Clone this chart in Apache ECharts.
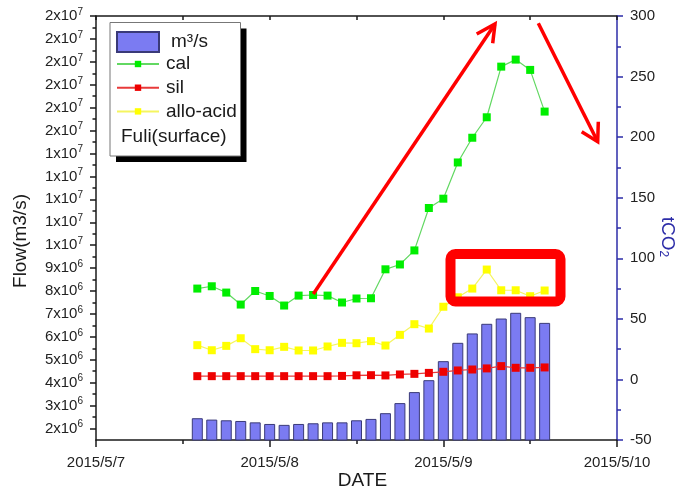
<!DOCTYPE html>
<html>
<head>
<meta charset="utf-8">
<title>Fuli (surface): flow and tCO2</title>
<script src="https://cdn.jsdelivr.net/npm/echarts@6/dist/echarts.min.js"></script>
<style>
  html, body { margin: 0; padding: 0; background: #fff; }
  #chart { width: 683px; height: 492px; }
</style>
</head>
<body>
<div id="chart"></div>
<script>
// Sampling times (every 2 hours)
const times = [
  '2015/5/7 14:00', '2015/5/7 16:00', '2015/5/7 18:00', '2015/5/7 20:00', '2015/5/7 22:00',
  '2015/5/8 00:00', '2015/5/8 02:00', '2015/5/8 04:00', '2015/5/8 06:00', '2015/5/8 08:00',
  '2015/5/8 10:00', '2015/5/8 12:00', '2015/5/8 14:00', '2015/5/8 16:00', '2015/5/8 18:00',
  '2015/5/8 20:00', '2015/5/8 22:00', '2015/5/9 00:00', '2015/5/9 02:00', '2015/5/9 04:00',
  '2015/5/9 06:00', '2015/5/9 08:00', '2015/5/9 10:00', '2015/5/9 12:00', '2015/5/9 14:00'
];

// Discharge, m3/s (left axis)
const flow = [
  2.45e6, 2.39e6, 2.36e6, 2.33e6, 2.27e6, 2.20e6, 2.16e6, 2.20e6, 2.23e6, 2.27e6,
  2.27e6, 2.36e6, 2.42e6, 2.67e6, 3.11e6, 3.59e6, 4.11e6, 4.94e6, 5.74e6, 6.15e6,
  6.57e6, 6.80e6, 7.05e6, 6.86e6, 6.61e6
];

// CO2 consumption, tCO2 (right axis)
const cal = [
  75.0, 76.9, 71.7, 61.8, 73.0, 68.9, 61.0, 69.2, 69.7, 69.2,
  63.5, 66.8, 67.0, 90.9, 94.9, 106.5, 141.5, 149.2, 179.1, 199.5,
  216.4, 258.2, 264.0, 255.5, 221.1
];
const sil = [
  2.7, 2.7, 2.7, 2.7, 2.7, 2.7, 2.7, 2.7, 2.7, 2.7,
  2.9, 3.4, 3.5, 3.3, 4.1, 4.6, 5.4, 6.3, 7.4, 8.2,
  9.1, 11.0, 9.6, 9.6, 9.9
];
const alloAcid = [
  28.3, 24.1, 27.7, 34.0, 25.0, 24.1, 26.9, 23.9, 23.9, 27.2,
  30.2, 29.9, 31.6, 28.0, 36.8, 45.6, 42.0, 60.0, 67.8, 75.0,
  90.7, 73.6, 73.6, 68.7, 73.4
];

// Axis tick labels
const dateTicks = ['2015/5/7', '2015/5/8', '2015/5/9', '2015/5/10'];
const flowTickValues = [
  2e6, 3e6, 4e6, 5e6, 6e6, 7e6, 8e6, 9e6, 10e6, 11e6,
  12e6, 13e6, 14e6, 15e6, 16e6, 17e6, 18e6, 19e6, 20e6
];
const flowTickLabels = [
  '2x10^6', '3x10^6', '4x10^6', '5x10^6', '6x10^6', '7x10^6', '8x10^6', '9x10^6',
  '1x10^7', '1x10^7', '1x10^7', '1x10^7', '1x10^7',
  '2x10^7', '2x10^7', '2x10^7', '2x10^7', '2x10^7', '2x10^7'
];

const FONT = '"Liberation Sans", Arial, sans-serif';
const INK = '#1a1a1a';
const NAVY = '#2c2ca8';

// hours elapsed since 2015/5/7 00:00
function hoursOf(s) {
  const [d, t] = s.split(' ');
  const day = Number(d.split('/')[2]);
  const hour = Number(t.split(':')[0]);
  return (day - 7) * 24 + hour;
}
const pairs = (vals) => vals.map((v, i) => [hoursOf(times[i]), v]);

// minor ticks halfway between the labelled flow ticks
const flowMinorTicks = flowTickValues.slice(0, -1).map((v, i) => (v + flowTickValues[i + 1]) / 2);

function flowLabel(v) {
  const i = flowTickValues.findIndex(t => Math.abs(t - v) < 1);
  if (i < 0) return '';
  const [m, e] = flowTickLabels[i].split('^');
  return '{m|' + m + '}{e|' + e + '}';
}

const chart = echarts.init(document.getElementById('chart'), null, { renderer: 'canvas' });

const axisLineBlack = { show: true, onZero: false, lineStyle: { color: INK, width: 1.5 } };

chart.setOption({
  animation: false,
  backgroundColor: '#fff',
  textStyle: { fontFamily: FONT },
  grid: { left: 96, right: 66, top: 16, bottom: 52, containLabel: false, outerBoundsMode: 'none' },
  xAxis: [
    {
      type: 'value', position: 'bottom', min: 0, max: 72, interval: 24,
      axisLine: axisLineBlack,
      axisTick: { show: true, length: 7, lineStyle: { color: INK, width: 1.5 } },
      minorTick: { show: true, splitNumber: 2, length: 4, lineStyle: { color: INK, width: 1.5 } },
      splitLine: { show: false },
      axisLabel: {
        formatter: v => dateTicks[Math.round(v / 24)] || '',
        fontSize: 15, color: '#222', margin: 15, fontFamily: FONT
      },
      name: 'DATE', nameLocation: 'middle', nameGap: 31, nameMoveOverlap: false,
      nameTextStyle: { fontSize: 19, color: INK, fontFamily: FONT, padding: [0, 0, 0, 12] }
    },
    {
      type: 'value', position: 'top', min: 0, max: 72, interval: 24,
      axisLine: axisLineBlack,
      axisTick: { show: true, inside: true, length: 4, lineStyle: { color: INK, width: 1.5 } },
      minorTick: { show: true, splitNumber: 2, length: 4, lineStyle: { color: INK, width: 1.5 } },
      splitLine: { show: false },
      axisLabel: { show: false }
    }
  ],
  yAxis: [
    {
      type: 'value', position: 'left', min: 1.5e6, max: 2e7,
      axisLine: axisLineBlack,
      axisTick: { show: true, length: 6, customValues: flowTickValues, lineStyle: { color: INK, width: 1.5 } },
      splitLine: { show: false },
      axisLabel: {
        customValues: flowTickValues,
        formatter: flowLabel,
        margin: 13,
        rich: {
          m: { fontSize: 15, color: '#222', fontFamily: FONT },
          e: { fontSize: 10, color: '#222', fontFamily: FONT, padding: [0, 0, 8, 0] }
        }
      },
      name: 'Flow(m3/s)', nameLocation: 'middle', nameGap: 66, nameMoveOverlap: false,
      nameTextStyle: { fontSize: 19, color: INK, fontFamily: FONT, padding: [0, 26, 0, 0] }
    },
    {
      type: 'value', position: 'right', min: -50, max: 300, interval: 50,
      axisLine: { show: true, onZero: false, lineStyle: { color: NAVY, width: 1.5 } },
      axisTick: { show: true, length: 6, lineStyle: { color: NAVY, width: 1.5 } },
      minorTick: { show: true, splitNumber: 2, length: 4, lineStyle: { color: NAVY, width: 1.5 } },
      splitLine: { show: false },
      axisLabel: { fontSize: 15, color: '#222', margin: 13, fontFamily: FONT },
      name: '{a|tCO}{s|2}', nameLocation: 'middle', nameGap: 40, nameRotate: -90, nameMoveOverlap: false,
      nameTextStyle: {
        padding: [0, 0, 0, 18],
        rich: {
          a: { fontSize: 19, color: NAVY, fontFamily: FONT },
          s: { fontSize: 12, color: NAVY, fontFamily: FONT, padding: [9, 0, 0, 0] }
        }
      }
    },
    {
      // short unlabelled ticks between the flow labels
      type: 'value', position: 'left', min: 1.5e6, max: 2e7,
      axisLine: { show: false },
      axisTick: { show: true, length: 3.5, customValues: flowMinorTicks, lineStyle: { color: INK, width: 1.5 } },
      axisLabel: { show: false },
      splitLine: { show: false }
    }
  ],
  legend: [
    {
      data: ['m³/s'], left: 116, top: 31, z: 20, padding: 0,
      itemWidth: 42, itemHeight: 20, icon: 'rect', selectedMode: false,
      textStyle: { fontSize: 19, color: INK, fontFamily: FONT, padding: [0, 0, 0, 7] }
    },
    {
      data: ['cal', 'sil', 'allo-acid'], orient: 'vertical', left: 116, top: 54, z: 20, padding: 0,
      itemWidth: 42, itemHeight: 8, itemGap: 3.7, selectedMode: false,
      textStyle: { fontSize: 19, lineHeight: 20, color: INK, fontFamily: FONT, padding: [0, 0, 0, 2] }
    }
  ],
  series: [
    {
      name: 'm³/s', type: 'bar', xAxisIndex: 0, yAxisIndex: 0,
      barWidth: 11, z: 2,
      itemStyle: { color: '#7b7bf2', borderColor: '#3a3a78', borderWidth: 1 },
      data: pairs(flow)
    },
    {
      name: 'cal', type: 'line', xAxisIndex: 0, yAxisIndex: 1, z: 3,
      symbol: 'rect', symbolSize: 8,
      lineStyle: { color: '#62d862', width: 1.2 },
      itemStyle: { color: '#00ee00' },
      data: pairs(cal)
    },
    {
      name: 'sil', type: 'line', xAxisIndex: 0, yAxisIndex: 1, z: 3,
      symbol: 'rect', symbolSize: 8,
      lineStyle: { color: '#e83a3a', width: 1.2 },
      itemStyle: { color: '#ee0000' },
      data: pairs(sil)
    },
    {
      name: 'allo-acid', type: 'line', xAxisIndex: 0, yAxisIndex: 1, z: 3,
      symbol: 'rect', symbolSize: 8,
      lineStyle: { color: '#f5f560', width: 1.2 },
      itemStyle: { color: '#ffff00' },
      data: pairs(alloAcid)
    }
  ],
  graphic: [
    // legend frame with its drop shadow
    { type: 'rect', z: 10, shape: { x: 116, y: 28.5, width: 130.5, height: 133.5 }, style: { fill: '#000' } },
    { type: 'rect', z: 11, shape: { x: 110, y: 22.5, width: 130.5, height: 133.5 }, style: { fill: '#fff', stroke: '#777', lineWidth: 1 } },
    { type: 'text', z: 12, x: 121, y: 136.5, style: { text: 'Fuli(surface)', font: '19px ' + FONT, fill: INK, verticalAlign: 'middle' } },
    // highlight box and arrows
    { type: 'rect', z: 100, shape: { x: 450.5, y: 254, width: 110, height: 47.5, r: 5 }, style: { fill: null, stroke: '#ff0000', lineWidth: 10 } },
    { type: 'line', z: 100, shape: { x1: 313.3, y1: 294, x2: 495, y2: 24 }, style: { stroke: '#ff0000', lineWidth: 3.5 } },
    { type: 'polyline', z: 100, shape: { points: [[476.7, 34], [495, 24], [492.7, 43.3]] }, style: { stroke: '#ff0000', lineWidth: 3.5, fill: null } },
    { type: 'line', z: 100, shape: { x1: 538.3, y1: 23.3, x2: 597.7, y2: 141.7 }, style: { stroke: '#ff0000', lineWidth: 3.5 } },
    { type: 'polyline', z: 100, shape: { points: [[581.7, 131.7], [597.7, 141.7], [598.3, 121.7]] }, style: { stroke: '#ff0000', lineWidth: 3.5, fill: null } }
  ]
});
</script>
</body>
</html>
